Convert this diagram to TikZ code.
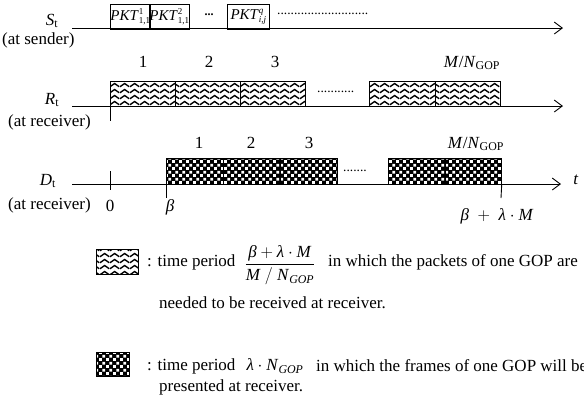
\documentclass[tikz,border=0pt]{standalone}
\usepackage{amsmath}
\usepackage{fontspec}
\setmainfont{Liberation Serif}
\usetikzlibrary{arrows.meta,patterns}

\pgfdeclarepatternformonly{wavelines}{\pgfpointorigin}{\pgfpoint{10pt}{6.3pt}}{\pgfpoint{10pt}{6.3pt}}{%
  \pgfsetlinewidth{1.5pt}%
  \pgfpathmoveto{\pgfpoint{0pt}{1.4pt}}%
  \pgfpathcurveto{\pgfpoint{2.2pt}{1.4pt}}{\pgfpoint{2.8pt}{4.9pt}}{\pgfpoint{5pt}{4.9pt}}%
  \pgfpathcurveto{\pgfpoint{7.2pt}{4.9pt}}{\pgfpoint{7.8pt}{1.4pt}}{\pgfpoint{10pt}{1.4pt}}%
  \pgfusepath{stroke}%
}
\pgfdeclarepatternformonly{chk}{\pgfpointorigin}{\pgfpoint{6.6pt}{6.6pt}}{\pgfpoint{6.6pt}{6.6pt}}{%
  \pgfpathrectangle{\pgfpoint{0.25pt}{0.25pt}}{\pgfpoint{2.8pt}{2.8pt}}%
  \pgfpathrectangle{\pgfpoint{3.55pt}{3.55pt}}{\pgfpoint{2.8pt}{2.8pt}}%
  \pgfusepath{fill}%
}

\newcommand{\gop}{\textit{M}/\textit{N}$_{\text{GOP}}$}
\newcommand{\pkt}[2]{\textit{PKT}\makebox[0pt][l]{\raisebox{5.5pt}{\fontsize{9}{9}\selectfont #1}}\raisebox{-3pt}{\fontsize{9}{9}\selectfont #2}}

\tikzset{
  lbl/.style={font=\fontsize{17}{20}\selectfont, inner sep=0pt},
  axisline/.style={line width=0.9pt, -{Straight Barb[length=8pt,width=12pt]}},
  wbox/.style={draw, line width=0.7pt, pattern=wavelines, minimum height=25pt, inner sep=0pt, anchor=north west},
  cbox/.style={draw, line width=0.7pt, preaction={fill=black}, pattern=chk, pattern color=white, minimum height=26pt, inner sep=0pt, anchor=north west},
  pbox/.style={draw, line width=0.8pt, minimum height=25pt, inner sep=0pt, anchor=north west, font=\fontsize{15}{18}\selectfont},
  tickline/.style={line width=0.9pt},
  dotrow/.style={font=\fontsize{13.5}{15}\selectfont, inner sep=0pt, anchor=west}
}

\begin{document}
\begin{tikzpicture}[x=1pt,y=-1pt]
\useasboundingbox[fill=white] (0,0) rectangle (584,408);

% ---------- S row ----------
\node[lbl] (sl) at (52,21) {\textit{S}$_{\text{t}}$};
\node[lbl, anchor=west] (sl2) at (2,40) {(at sender)};
\coordinate (s0) at (72,28);
\coordinate (s1) at (563,28);
\draw[axisline] (s0) -- (s1);
\node[pbox, minimum width=39pt] (p1) at (110,4) {\pkt{1}{1,1}};
\node[pbox, minimum width=39pt] (p2) at (149,4) {\pkt{2}{1,1}};
\node[lbl, font=\fontsize{12}{14}\selectfont\bfseries] (pd) at (209,15) {...};
\node[pbox, minimum width=42pt] (p3) at (227,4) {\pkt{\textit{q}}{\textit{i,j}}};
\node[dotrow] (sd) at (277,14) {...........................};

% ---------- R row ----------
\node[lbl] (rl) at (52,100) {\textit{R}$_{\text{t}}$};
\node[lbl, anchor=west] (rl2) at (8,122) {(at receiver)};
\coordinate (r0) at (72,106);
\coordinate (r1) at (563,106);
\draw[axisline] (r0) -- (r1);
\node[wbox, minimum width=65pt] (w1) at (110,81) {};
\node[wbox, minimum width=65pt] (w2) at (175,81) {};
\node[wbox, minimum width=65pt] (w3) at (240,81) {};
\node[dotrow] (rd) at (317,92) {...........};
\node[wbox, minimum width=66pt] (w4) at (369,81) {};
\node[wbox, minimum width=65pt] (w5) at (435,81) {};
\coordinate (rt) at (110,121);
\draw[tickline] (w1.south west) -- (rt);
\node[lbl] (rn1) at (143,62) {1};
\node[lbl] (rn2) at (209,62) {2};
\node[lbl] (rn3) at (275,62) {3};
\node[lbl] (rn4) at (472,63) {\gop};

% ---------- D row ----------
\node[lbl] (dl) at (48,181) {\textit{D}$_{\text{t}}$};
\node[lbl, anchor=west] (dl2) at (8,205) {(at receiver)};
\coordinate (d0) at (72,184);
\coordinate (d1) at (561,184);
\draw[axisline] (d0) -- (d1);
\node[lbl] (tl) at (576,180) {\textit{t}};
\node[cbox, minimum width=57pt] (c1) at (166,158) {};
\node[cbox, minimum width=57pt] (c2) at (223,158) {};
\node[cbox, minimum width=57pt] (c3) at (280,158) {};
\node[dotrow] (dd) at (343,171) {.......};
\node[cbox, minimum width=57pt] (c4) at (388,158) {};
\node[cbox, minimum width=56pt] (c5) at (445,158) {};
\coordinate (z0) at (110,171);
\coordinate (z1) at (110,190);
\draw[tickline] (z0) -- (z1);
\coordinate (bt) at (166,198);
\draw[tickline] (c1.south west) -- (bt);
\coordinate (et) at (501,198);
\draw[tickline] (c5.south east) -- (et);
\node[lbl] (dn1) at (199,143) {1};
\node[lbl] (dn2) at (251,143) {2};
\node[lbl] (dn3) at (309,143) {3};
\node[lbl] (dn4) at (476,144) {\gop};
\node[lbl] (zero) at (110,206) {0};
\node[lbl] (beta) at (170,207) {\textit{β}};
\node[lbl] (bl) at (497,216) {$\text{\textit{β}}\;+\;\text{\textit{λ}}\cdot\text{\textit{M}}$};

% ---------- legend ----------
\node[wbox, minimum width=42pt] (lw) at (96,249) {};
\node[lbl, anchor=west] (lt1) at (147,262) {: time period};
\node[lbl] (fr) at (280,265) {$\displaystyle\frac{\text{\textit{β}} + \text{\textit{λ}}\cdot\text{\textit{M}}}{\text{\textit{M}}\ /\ \text{\textit{N}}_{\text{\textit{GOP}}}}$};
\node[lbl, anchor=west] (lt2) at (328,262) {in which the packets of one GOP are};
\node[lbl, anchor=west] (lt3) at (159,303) {needed to be received at receiver.};

\node[cbox, minimum width=33pt, minimum height=24pt] (lc) at (96,352) {};
\node[lbl, anchor=west] (lt4) at (147,366) {: time period};
\node[lbl] (ln) at (275,366) {$\text{\textit{λ}}\cdot\text{\textit{N}}_{\text{\textit{GOP}}}$};
\node[lbl, anchor=west] (lt5) at (316,366) {in which the frames of one GOP will be};
\node[lbl, anchor=west] (lt6) at (159,387) {presented at receiver.};
\end{tikzpicture}
\end{document}
